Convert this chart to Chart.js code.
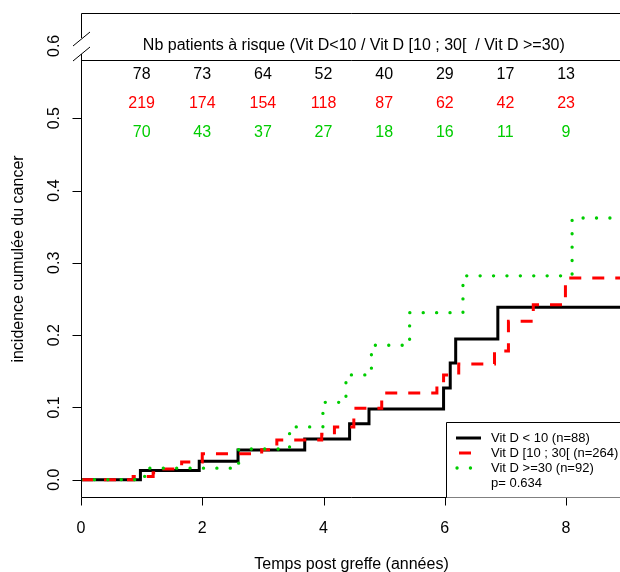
<!DOCTYPE html>
<html>
<head>
<meta charset="utf-8">
<script src="https://cdn.jsdelivr.net/npm/chart.js@4.4.1/dist/chart.umd.min.js"></script>
<style>
  html, body { margin: 0; padding: 0; background: #fff; }
  #wrap { width: 620px; height: 572px; }
</style>
</head>
<body>
<div id="wrap"><canvas id="chart" width="620" height="572"></canvas></div>
<script>
// axis ticks
const xTicks = [0, 2, 4, 6, 8];
const yTicks = [0, 0.1, 0.2, 0.3, 0.4, 0.5, 0.6];

// numbers at risk (years 1..8)
const riskTimes = [1, 2, 3, 4, 5, 6, 7, 8];
const riskLow = [78, 73, 64, 52, 40, 29, 17, 13];
const riskMid = [219, 174, 154, 118, 87, 62, 42, 23];
const riskHigh = [70, 43, 37, 27, 18, 16, 11, 9];
const riskTitle = 'Nb patients à risque (Vit D<10 / Vit D [10 ; 30[  / Vit D >=30)';

// cumulative incidence step curves (time of jump, value after jump)
const lowTimes = [0, 0.98, 1.95, 2.59, 3.69, 4.43, 4.75, 5.98, 6.09, 6.18, 6.875, 9.2];
const lowVals  = [0, 0.0129, 0.0255, 0.041, 0.0563, 0.0774, 0.0978, 0.1268, 0.1614, 0.1945, 0.2385, 0.2385];

const midTimes = [0, 0.86, 1.19, 1.3, 1.66, 2.0, 2.98, 3.23, 3.97, 4.18, 4.5, 4.96, 5.87, 5.98, 6.23, 6.82, 7.05, 7.46, 7.99, 9.2];
const midVals  = [0, 0.0045, 0.0095, 0.0147, 0.0245, 0.036, 0.0415, 0.055, 0.063, 0.073, 0.099, 0.12, 0.131, 0.145, 0.160, 0.178, 0.219, 0.242, 0.279, 0.279];

const highTimes = [0, 1.05, 2.6, 3.44, 3.99, 4.37, 4.79, 5.42, 6.30, 8.10, 9.2];
const highVals  = [0, 0.016, 0.0425, 0.073, 0.107, 0.145, 0.186, 0.231, 0.282, 0.362, 0.362];

const legendLabels = ['Vit D < 10 (n=88)', 'Vit D [10 ; 30[ (n=264)', 'Vit D >=30 (n=92)'];
const pLabel = 'p= 0.634';

const FONT = '"Liberation Sans", Arial, Helvetica, sans-serif';
const BLACK = '#000000', RED = '#ff0000', GREEN = '#00cd00';

const pts = (ts, vs) => ts.map((t, i) => ({ x: t, y: vs[i] }));

const decor = {
  id: 'decor',
  afterDraw(chart) {
    const { ctx, chartArea: a, scales: { x, y } } = chart;
    const X = (v) => x.getPixelForValue(v);
    const Y = (v) => y.getPixelForValue(v);
    const L = a.left + 0.5, B = a.bottom + 0.5, T = a.top + 0.5, R = a.right + 5;
    ctx.save();
    ctx.strokeStyle = '#000';
    ctx.fillStyle = '#000';
    ctx.lineWidth = 1;

    // box with broken left axis
    const strip = Math.round(Y(0.5805)) + 0.5;
    ctx.beginPath();
    ctx.moveTo(R, T); ctx.lineTo(L, T); ctx.lineTo(L, 38);
    ctx.moveTo(L, 54); ctx.lineTo(L, B); ctx.lineTo(R, B);
    ctx.moveTo(L, strip); ctx.lineTo(R, strip);
    // break marks
    ctx.moveTo(a.left - 8, 46); ctx.lineTo(a.left + 9, 32);
    ctx.moveTo(a.left - 8, 61); ctx.lineTo(a.left + 9, 47);
    ctx.stroke();

    // y ticks + rotated labels
    ctx.font = '16px ' + FONT;
    ctx.textAlign = 'center';
    ctx.textBaseline = 'alphabetic';
    yTicks.forEach((v) => {
      const py = Y(v);
      if (v < 0.55) {
        ctx.beginPath();
        ctx.moveTo(L - 9, Math.round(py) + 0.5); ctx.lineTo(L, Math.round(py) + 0.5);
        ctx.stroke();
      }
      ctx.save();
      ctx.translate(59, py);
      ctx.rotate(-Math.PI / 2);
      ctx.fillText(v.toFixed(1), 0, 0);
      ctx.restore();
    });

    // x ticks + labels
    xTicks.forEach((v) => {
      const px = Math.round(X(v)) + 0.5;
      ctx.beginPath();
      ctx.moveTo(px, B); ctx.lineTo(px, B + 8);
      ctx.stroke();
      ctx.fillText(String(v), X(v), 533);
    });

    // axis titles
    ctx.fillText('Temps post greffe (années)', (a.left + 622) / 2, 569);
    ctx.save();
    ctx.translate(23, 259);
    ctx.rotate(-Math.PI / 2);
    ctx.fillText('incidence cumulée du cancer', 0, 0);
    ctx.restore();

    // numbers at risk
    ctx.textBaseline = 'middle';
    ctx.fillText(riskTitle, X(4.5), Y(0.601));
    [[riskLow, BLACK, 0.56], [riskMid, RED, 0.52], [riskHigh, GREEN, 0.48]].forEach(([row, col, yv]) => {
      ctx.fillStyle = col;
      row.forEach((n, i) => ctx.fillText(String(n), X(riskTimes[i]), Y(yv)));
    });

    // legend
    const lx = 446.5, ly = 422.5;
    ctx.fillStyle = '#fff';
    ctx.fillRect(lx, ly, R - lx, B - ly);
    ctx.strokeStyle = '#000';
    ctx.lineWidth = 1;
    ctx.beginPath();
    ctx.moveTo(R, ly); ctx.lineTo(lx, ly); ctx.lineTo(lx, B);
    ctx.stroke();
    const rows = [438, 453, 468];
    const styles = [
      { c: BLACK, w: 3, d: [], cap: 'butt', off: 0 },
      { c: RED, w: 3, d: [12, 11], cap: 'butt', off: -3 },
      { c: GREEN, w: 3.3, d: [0.1, 13.3], cap: 'round', off: -1 }
    ];
    rows.forEach((ry, i) => {
      const s = styles[i];
      ctx.save();
      ctx.strokeStyle = s.c; ctx.lineWidth = s.w; ctx.lineCap = s.cap;
      ctx.setLineDash(s.d); ctx.lineDashOffset = s.off;
      ctx.beginPath();
      ctx.moveTo(456, ry); ctx.lineTo(481, ry);
      ctx.stroke();
      ctx.restore();
    });
    ctx.fillStyle = '#000';
    ctx.font = '13px ' + FONT;
    ctx.textAlign = 'left';
    legendLabels.forEach((t, i) => ctx.fillText(t, 491, rows[i]));
    ctx.fillText(pLabel, 491, 483);
    ctx.restore();
  }
};

new Chart(document.getElementById('chart'), {
  type: 'line',
  data: {
    datasets: [
      { label: legendLabels[0], data: pts(lowTimes, lowVals), borderColor: BLACK, borderWidth: 3, order: 3 },
      { label: legendLabels[1], data: pts(midTimes, midVals), borderColor: RED, borderWidth: 3, borderDash: [12, 11], order: 2 },
      { label: legendLabels[2], data: pts(highTimes, highVals), borderColor: GREEN, borderWidth: 3.3, borderDash: [0.1, 13.3], borderCapStyle: 'round', order: 1 }
    ]
  },
  options: {
    responsive: false,
    animation: false,
    devicePixelRatio: 1,
    layout: { padding: { left: 81, top: 13, right: 0, bottom: 75 } },
    elements: { point: { radius: 0 }, line: { stepped: true, tension: 0, fill: false } },
    plugins: { legend: { display: false }, tooltip: { enabled: false } },
    scales: {
      x: { type: 'linear', min: 0, max: 8.89, display: false },
      y: { type: 'linear', min: -0.0239, max: 0.6455, display: false }
    }
  },
  plugins: [decor]
});
</script>
</body>
</html>
